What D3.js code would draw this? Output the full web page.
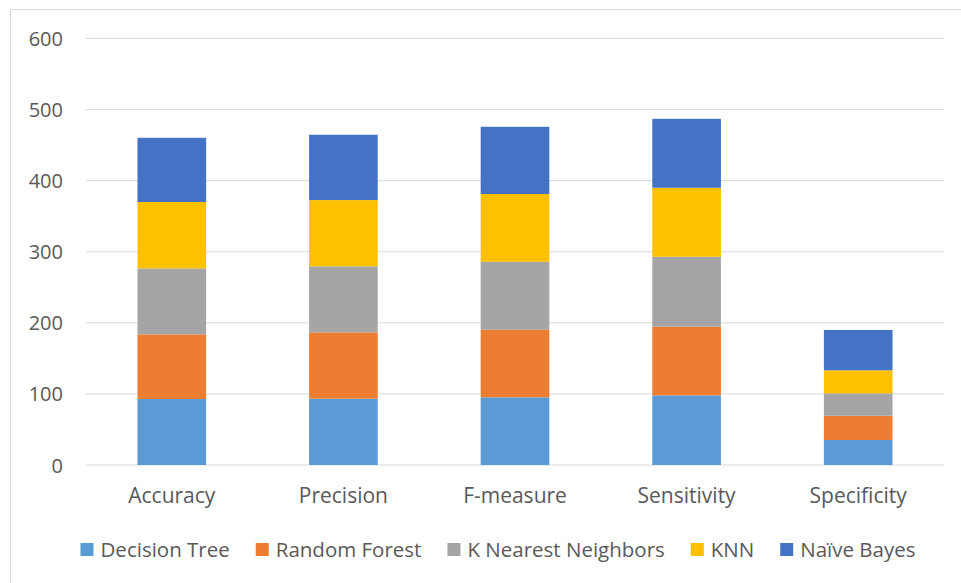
<!DOCTYPE html>
<html>
<head>
<meta charset="utf-8">
<script src="https://cdn.jsdelivr.net/npm/d3@7"></script>
<style>
  body { margin: 0; background: #fff; }
  svg { display: block; }
  text { font-family: "Open Sans", sans-serif; fill: #595959; }
</style>
</head>
<body>
<svg id="chart" width="961" height="583"></svg>
<script>
const categories = ["Accuracy", "Precision", "F-measure", "Sensitivity", "Specificity"];
const seriesNames = ["Decision Tree", "Random Forest", "K Nearest Neighbors", "KNN", "Naïve Bayes"];
const decisionTree = [92.8, 93.3, 95.2, 98.0, 35.2];
const randomForest = [91.0, 93.3, 95.1, 96.5, 34.1];
const kNearest     = [92.8, 92.9, 95.7, 98.5, 31.5];
const knn          = [93.4, 93.2, 95.2, 97.0, 32.4];
const naiveBayes   = [90.3, 91.9, 94.6, 97.0, 56.7];
const yTicks = [0, 100, 200, 300, 400, 500, 600];
const colors = ["#5B9BD5", "#ED7D31", "#A5A5A5", "#FFC000", "#4472C4"];

const seriesValues = [decisionTree, randomForest, kNearest, knn, naiveBayes];
const table = categories.map((c, i) => {
    const row = { category: c };
    seriesNames.forEach((s, j) => row[s] = seriesValues[j][i]);
    return row;
});

const svg = d3.select("svg#chart");

// chart frame (only top/left edges fall inside the picture)
svg.append("rect")
   .attr("x", 10.5).attr("y", 9.5)
   .attr("width", 1000).attr("height", 1000)
   .attr("fill", "none")
   .attr("stroke", "#D9D9D9");

const x = d3.scaleBand()
            .domain(categories)
            .range([86, 944])
            .paddingInner(0.6)
            .paddingOuter(0.3);

const y = d3.scaleLinear()
            .domain([0, 600])
            .range([465, 38.5]);

// gridlines
svg.append("g")
   .selectAll("line")
   .data(yTicks)
   .enter().append("line")
           .attr("x1", 86).attr("x2", 944)
           .attr("y1", d => y(d)).attr("y2", d => y(d))
           .attr("stroke", "#D9D9D9")
           .attr("stroke-width", 1);

// y axis labels
const yAxis = svg.append("g")
                 .attr("transform", "translate(63, 0)")
                 .call(d3.axisLeft(y).tickValues(yTicks).tickSize(0).tickPadding(0));
yAxis.select(".domain").remove();
yAxis.selectAll("text")
     .attr("font-size", 20)
     .attr("font-family", "Open Sans")
     .attr("fill", "#595959")
     .attr("dy", "0.35em");

// stacked bars
const stack = d3.stack().keys(seriesNames);
const layers = stack(table);

svg.append("g")
   .selectAll("g")
   .data(layers)
   .enter().append("g")
           .attr("fill", (d, i) => colors[i])
   .selectAll("rect")
   .data(d => d)
   .enter().append("rect")
           .attr("x", d => x(d.data.category))
           .attr("width", x.bandwidth())
           .attr("y", d => y(d[1]))
           .attr("height", d => y(d[0]) - y(d[1]));

// x axis labels
const xAxis = svg.append("g")
                 .attr("transform", "translate(0, 465)")
                 .call(d3.axisBottom(x).tickSize(0).tickPadding(0));
xAxis.select(".domain").remove();
xAxis.selectAll("text")
     .attr("font-size", 21)
     .attr("font-family", "Open Sans")
     .attr("fill", "#595959")
     .attr("dy", "38px");

// legend
const legend = svg.append("g").attr("class", "legend");
const items = legend.selectAll("g")
                    .data(seriesNames)
                    .enter().append("g");
items.append("rect")
     .attr("width", 13).attr("height", 13)
     .attr("y", 543)
     .attr("fill", (d, i) => colors[i]);
items.append("text")
     .attr("x", 20)
     .attr("y", 556.5)
     .attr("font-size", 20.5)
     .text(d => d);

let cursor = 0;
const offsets = [];
items.each(function() {
    offsets.push(cursor);
    const w = d3.select(this).select("text").node().getComputedTextLength();
    cursor += 20 + w + 26;
});
const total = cursor - 26;
const start = 498 - total / 2;
items.attr("transform", (d, i) => `translate(${start + offsets[i]}, 0)`);
</script>
</body>
</html>
